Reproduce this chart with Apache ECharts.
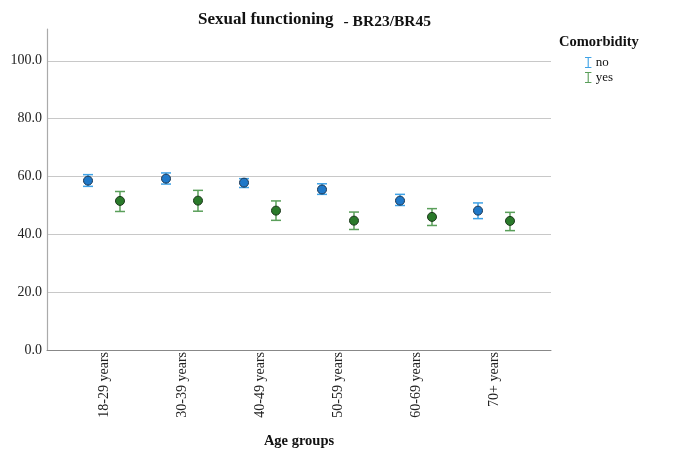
<!DOCTYPE html>
<html><head><meta charset="utf-8">
<script src="https://cdn.jsdelivr.net/npm/echarts@6/dist/echarts.min.js"></script>
<style>html,body{margin:0;padding:0;background:#fff}#c{width:673px;height:454px}</style>
</head><body><div id="c"></div>
<script>
const categories = ['18-29 years','30-39 years','40-49 years','50-59 years','60-69 years','70+ years'];
const noMean  = [57.9, 58.6, 57.2, 54.8, 50.9, 47.4];
const noLow   = [55.9, 56.7, 55.5, 53.1, 49.2, 44.6];
const noHigh  = [60.0, 60.6, 58.6, 56.8, 53.1, 50.1];
const yesMean = [50.8, 50.9, 47.4, 43.9, 45.2, 43.8];
const yesLow  = [47.1, 47.2, 44.0, 40.8, 42.2, 40.4];
const yesHigh = [54.1, 54.5, 50.8, 46.9, 48.1, 46.8];
const yTicks = [0, 20, 40, 60, 80, 100];

const serif = '"Liberation Serif","DejaVu Serif",serif';
const chart = echarts.init(document.getElementById('c'));

function mk(name, mean, low, high, shift, barColor, fill, stroke) {
  const data = categories.map((c, i) => [i, mean[i], low[i], high[i]]);
  return {
    type: 'custom', name: name, xAxisIndex: 1, yAxisIndex: 1,
    itemStyle: { color: barColor },
    data: data,
    renderItem: function (params, api) {
      const i = api.value(0);
      const band = api.size([1, 0])[0];
      const c = api.coord([i, api.value(1)]);
      const lo = api.coord([i, api.value(2)]);
      const hi = api.coord([i, api.value(3)]);
      const x = c[0] + shift * band;
      const hw = 5;
      const ls = { stroke: barColor, lineWidth: 1.5 };
      return {
        type: 'group', children: [
          { type: 'line', shape: { x1: x, y1: lo[1], x2: x, y2: hi[1] }, style: ls },
          { type: 'line', shape: { x1: x - hw, y1: lo[1], x2: x + hw, y2: lo[1] }, style: ls },
          { type: 'line', shape: { x1: x - hw, y1: hi[1], x2: x + hw, y2: hi[1] }, style: ls },
          { type: 'circle', shape: { cx: x, cy: c[1], r: 4.5 }, style: { fill: fill, stroke: stroke, lineWidth: 1 } }
        ]
      };
    }
  };
}

const iconPath = 'path://M0,0H7V1.2H4.1V10.8H7V12H0V10.8H2.9V1.2H0Z';

chart.setOption({
  animation: false,
  title: [
    { text: '{a|Sexual functioning}  {b|- BR23/BR45}', left: 193, top: 5,
      textStyle: { rich: {
        a: { fontFamily: serif, fontWeight: 'bold', fontSize: 17, color: '#111' },
        b: { fontFamily: serif, fontWeight: 'bold', fontSize: 15.5, color: '#111', padding: [4, 0, 0, 0] } } } },
    { text: 'Comorbidity', left: 554, top: 30,
      textStyle: { fontFamily: serif, fontWeight: 'bold', fontSize: 14.5, color: '#111' } }
  ],
  legend: {
    orient: 'vertical', left: 580, top: 51, itemWidth: 7, itemHeight: 11, itemGap: 2,
    icon: iconPath,
    textStyle: { fontFamily: serif, fontSize: 13, color: '#111', padding: [0, 0, 0, -1] },
    data: ['no', 'yes']
  },
  grid: [
    { left: 47, right: 122, top: 29, bottom: 104 },
    { left: 65, right: 140, top: 29, bottom: 104 }
  ],
  xAxis: [
    { type: 'value', gridIndex: 0, min: 0, max: 1, axisLabel: { show: false }, axisTick: { show: false },
      splitLine: { show: false }, axisLine: { show: true, lineStyle: { color: '#888', width: 1 } } },
    { type: 'category', gridIndex: 1, data: categories, boundaryGap: true,
      axisLine: { show: false }, axisTick: { show: false },
      axisLabel: { rotate: 90, margin: 6, fontFamily: serif, fontSize: 14, color: '#222' },
      name: 'Age groups', nameLocation: 'middle', nameGap: 88,
      nameTextStyle: { fontFamily: serif, fontWeight: 'bold', fontSize: 14.5, color: '#111' } }
  ],
  yAxis: [
    { type: 'value', gridIndex: 0, min: 0, max: 111, interval: 20,
      axisLine: { show: true, lineStyle: { color: '#aaa', width: 1.2 } }, axisTick: { show: false },
      axisLabel: { showMaxLabel: false, margin: 5, fontFamily: serif, fontSize: 14, color: '#222',
        formatter: v => yTicks.indexOf(v) >= 0 ? v.toFixed(1) : '' },
      splitLine: { show: true, showMaxLine: false, lineStyle: { color: '#c8c8c8', width: 1.2 } } },
    { type: 'value', gridIndex: 1, min: 0, max: 111, show: false, splitLine: { show: false } }
  ],
  series: [
    mk('no', noMean, noLow, noHigh, -0.205, '#3fa2e6', '#1f78c8', '#1b3550'),
    mk('yes', yesMean, yesLow, yesHigh, 0.205, '#5a9f5a', '#2a7a2a', '#1a361a')
  ]
});
</script></body></html>
